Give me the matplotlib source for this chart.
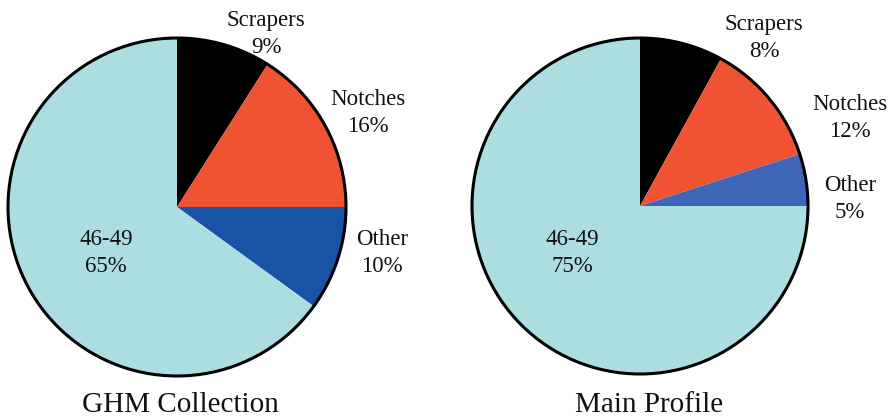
import numpy as np
import matplotlib
matplotlib.use('Agg')
import matplotlib.pyplot as plt
from matplotlib.patches import Circle

# data
categories = ['Scrapers', 'Notches', 'Other', '46-49']
ghm_values = [9, 16, 10, 65]
main_values = [8, 12, 5, 75]
titles = ['GHM Collection', 'Main Profile']

plt.rcParams['font.family'] = ['Liberation Serif', 'DejaVu Serif']

fig = plt.figure(figsize=(8.9, 4.19), dpi=100)
ax = fig.add_axes([0, 0, 1, 1])

H = 419
# pie centres / radii in pixel units (y measured from bottom)
pies = [
    dict(vals=ghm_values, center=(177, H - 207), r=169,
         colors=['#000000', '#ef5331', '#1853a6', '#acdde0'],
         lab=[(266, H - 34), (368, H - 113), (382, H - 253), (106, H - 253)],
         title_xy=(180, H - 405)),
    dict(vals=main_values, center=(640, H - 206), r=168,
         colors=['#000000', '#ef5331', '#3f66b6', '#acdde0'],
         lab=[(764, H - 38), (850, H - 118), (850, H - 199), (572, H - 253)],
         title_xy=(649, H - 405)),
]

for p, t in zip(pies, titles):
    ax.pie(p['vals'], colors=p['colors'], startangle=90, counterclock=False,
           center=p['center'], radius=p['r'],
           wedgeprops=dict(linewidth=0))
    ax.add_patch(Circle(p['center'], p['r'], fill=False, edgecolor='black', linewidth=2.2))
    for (x, y), c, v in zip(p['lab'], categories, p['vals']):
        ax.text(x, y, '%s\n%d%%' % (c, v), ha='center', va='center',
                fontsize=16.5, linespacing=1.4, color='#111111')
    ax.text(p['title_xy'][0], p['title_xy'][1], t, ha='center', va='center',
            fontsize=21, color='#111111')

ax.set_xlim(0, 890)
ax.set_ylim(0, 419)
ax.set_aspect('equal')
ax.axis('off')

plt.savefig('out.png', dpi=100)
